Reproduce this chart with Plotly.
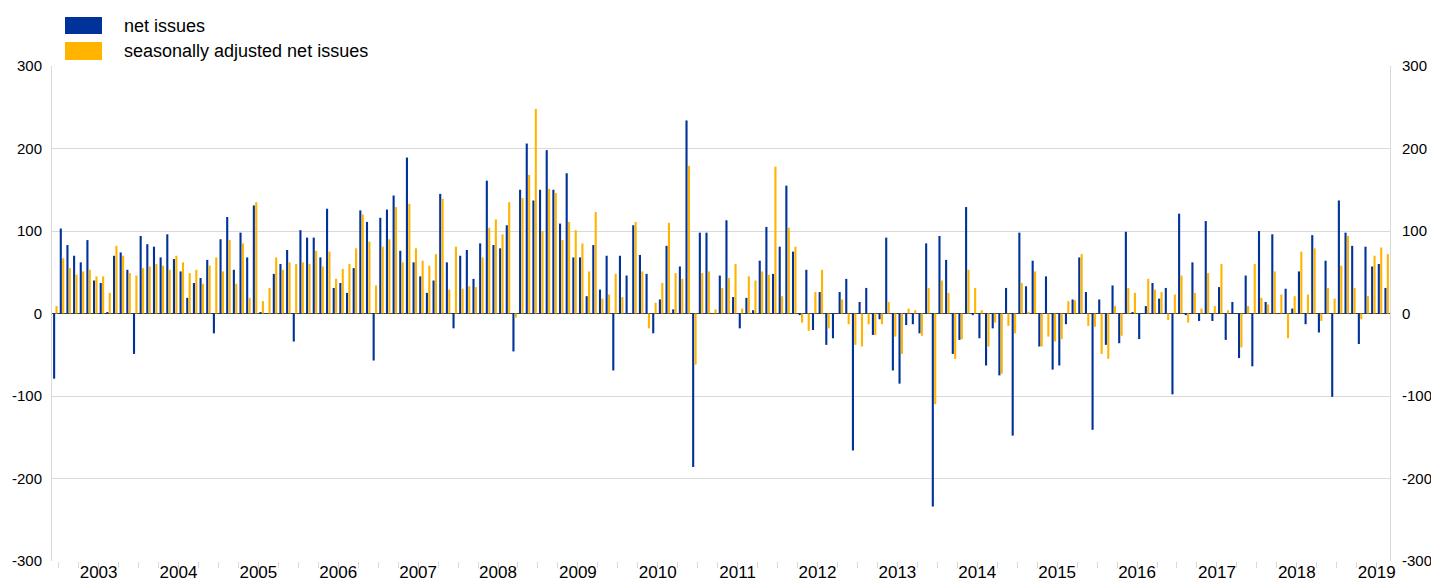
import plotly.graph_objects as go
import pandas as pd

# Monthly data, Dec 2002 - Aug 2019 (EUR billions)
months = [d.strftime("%b %Y") for d in pd.date_range("2002-12-01", periods=201, freq="MS")]

net_issues = [
    -79, 103, 83, 70, 62, 89, 40, 37, 1, 70, 74, 53,
    -49, 94, 84, 81, 68, 96, 66, 51, 19, 37, 43, 65,
    -24, 90, 117, 53, 98, 68, 131, 1, 0, 48, 60, 77,
    -34, 101, 92, 92, 68, 127, 31, 37, 25, 55, 125, 111,
    -57, 116, 126, 143, 76, 189, 62, 45, 25, 40, 145, 62,
    -18, 70, 77, 42, 85, 161, 83, 79, 107, -46, 150, 206,
    137, 150, 198, 150, 109, 170, 68, 68, 21, 83, 29, 70,
    -69, 70, 46, 107, 71, 48, -24, 17, 82, 5, 57, 234,
    -186, 98, 98, 0, 46, 113, 20, -18, 19, 4, 64, 105,
    48, 81, 155, 75, -2, 53, -20, 26, -38, -30, 26, 42,
    -166, 14, 31, -26, -7, 92, -69, -85, -14, -13, -24, 85,
    -234, 94, 65, -49, -32, 129, -2, -30, -63, -18, -75, 31,
    -148, 98, 33, 64, -40, 45, -68, -63, -13, 17, 68, 26,
    -141, 17, -38, 34, -36, 99, 1, -31, 9, 37, 18, 31,
    -98, 121, -2, 62, -9, 112, -9, 32, -32, 14, -54, 46,
    -64, 100, 14, 96, 0, 30, 6, 51, -13, 95, -23, 64,
    -101, 137, 98, 82, -37, 81, 57, 60, 31,
]

sa_net_issues = [
    9, 67, 55, 47, 51, 53, 45, 45, 25, 82, 70, 49,
    46, 55, 57, 60, 58, 53, 70, 62, 49, 53, 36, 58,
    68, 51, 89, 36, 85, 19, 135, 15, 31, 68, 53, 62,
    60, 62, 60, 76, 57, 75, 42, 54, 60, 79, 120, 87,
    34, 81, 90, 129, 62, 133, 79, 64, 58, 72, 139, 29,
    81, 30, 33, 32, 68, 104, 114, 96, 135, -5, 140, 168,
    248, 100, 151, 146, 89, 111, 101, 85, 51, 123, 18, 23,
    48, 20, 0, 111, 51, -18, 13, 37, 110, 49, 42, 179,
    -62, 49, 51, 5, 31, 43, 60, 6, 45, 40, 51, 47,
    178, 21, 104, 81, -11, -21, 26, 53, -18, 0, 17, -13,
    -38, -40, -13, -26, -13, 14, -28, -49, 6, 4, -27, 31,
    -110, 40, 25, -55, -31, 53, 31, 4, -40, -11, -73, -15,
    -24, 37, 2, 51, -40, -28, -34, -31, 15, 16, 72, -15,
    -16, -49, -55, 9, -27, 31, 25, 0, 42, 29, 26, -8,
    23, 46, -11, 25, 6, 49, 9, 60, 4, 0, -41, 9,
    60, 19, 11, 51, 23, -30, 21, 75, 23, 79, -9, 31,
    18, 58, 94, 31, -7, 21, 70, 80, 72,
]

years = list(range(2003, 2020))
y_tickvals = [-300, -200, -100, 0, 100, 200, 300]
y_ticktext = ["-300", "-200", "-100", "0", "100", "200", "300"]

BLUE = "#003299"
YELLOW = "#FFB400"
GRID = "#d9d9d9"
FONT = "Arial, Liberation Sans, sans-serif"

W, H = 1431, 580
L, R, T, B = 52, 41, 66, 19

x = list(range(len(months)))

fig = go.Figure()
fig.add_trace(go.Bar(x=x, y=net_issues, name="net issues", marker_color=BLUE,
                     marker_line_width=0, customdata=months,
                     hovertemplate="%{customdata}: %{y}<extra>net issues</extra>"))
fig.add_trace(go.Bar(x=x, y=sa_net_issues, name="seasonally adjusted net issues",
                     marker_color=YELLOW, marker_line_width=0, customdata=months,
                     hovertemplate="%{customdata}: %{y}<extra>seasonally adjusted</extra>"))
# invisible helper trace so the right-hand axis is drawn
fig.add_trace(go.Scatter(x=[0], y=[0], yaxis="y2", mode="markers",
                         marker=dict(opacity=0), showlegend=False, hoverinfo="skip"))

# quarterly tick marks, year labels at mid-year
tickvals = [0.5 + 3 * k for k in range(67)]
ticktext = []
for v in tickvals:
    d = v - 6.5
    if d % 12 == 0:
        ticktext.append(str(years[int(d // 12)]))
    else:
        ticktext.append("")

fig.update_layout(
    width=W, height=H,
    margin=dict(l=L, r=R, t=T, b=B, autoexpand=False),
    paper_bgcolor="white", plot_bgcolor="white",
    barmode="group", bargap=0.28, bargroupgap=0.12,
    showlegend=False,
    font=dict(family=FONT, color="#000000"),
    xaxis=dict(range=[-0.5, len(months) - 0.5], tickmode="array",
               tickvals=tickvals, ticktext=ticktext, ticks="outside",
               ticklen=6, tickcolor=GRID, showgrid=False, zeroline=False,
               showline=False, tickfont=dict(size=17, family=FONT), tickangle=0,
               ticklabelstandoff=-10, automargin=False),
    yaxis=dict(range=[-300, 300], tickmode="array", tickvals=y_tickvals,
               ticktext=y_ticktext, showgrid=True, gridcolor=GRID,
               gridwidth=1, zeroline=True, zerolinecolor="#404040", zerolinewidth=1,
               showline=True, linecolor=GRID, linewidth=1,
               tickfont=dict(size=15, family=FONT), ticks="", ticklabelstandoff=6,
               automargin=False),
    yaxis2=dict(range=[-300, 300], tickmode="array", tickvals=y_tickvals,
                ticktext=y_ticktext, overlaying="y", side="right",
                showgrid=False, zeroline=False, showline=True, linecolor=GRID,
                linewidth=1, tickfont=dict(size=15, family=FONT), ticks="",
                ticklabelstandoff=8, automargin=False),
)

# custom legend (swatches + labels) above the plot
pw = W - L - R
ph = H - T - B

def px_x(p):
    return (p - L) / pw

def px_y(p):
    return (H - B - p) / ph

legend_items = [("net issues", BLUE, 17, 34), ("seasonally adjusted net issues", YELLOW, 42, 60)]
for label, color, y0, y1 in legend_items:
    fig.add_shape(type="rect", xref="paper", yref="paper",
                  x0=px_x(65), x1=px_x(102), y0=px_y(y1), y1=px_y(y0),
                  fillcolor=color, line=dict(width=0))
    fig.add_annotation(xref="paper", yref="paper", x=px_x(122), y=px_y((y0 + y1) / 2),
                       text=label, showarrow=False, xanchor="left", yanchor="middle",
                       font=dict(size=18, family=FONT, color="#000000"))

fig.write_html("out.html", config={"displayModeBar": False},
               post_script="document.body.style.margin='0';document.body.style.overflow='hidden';")
